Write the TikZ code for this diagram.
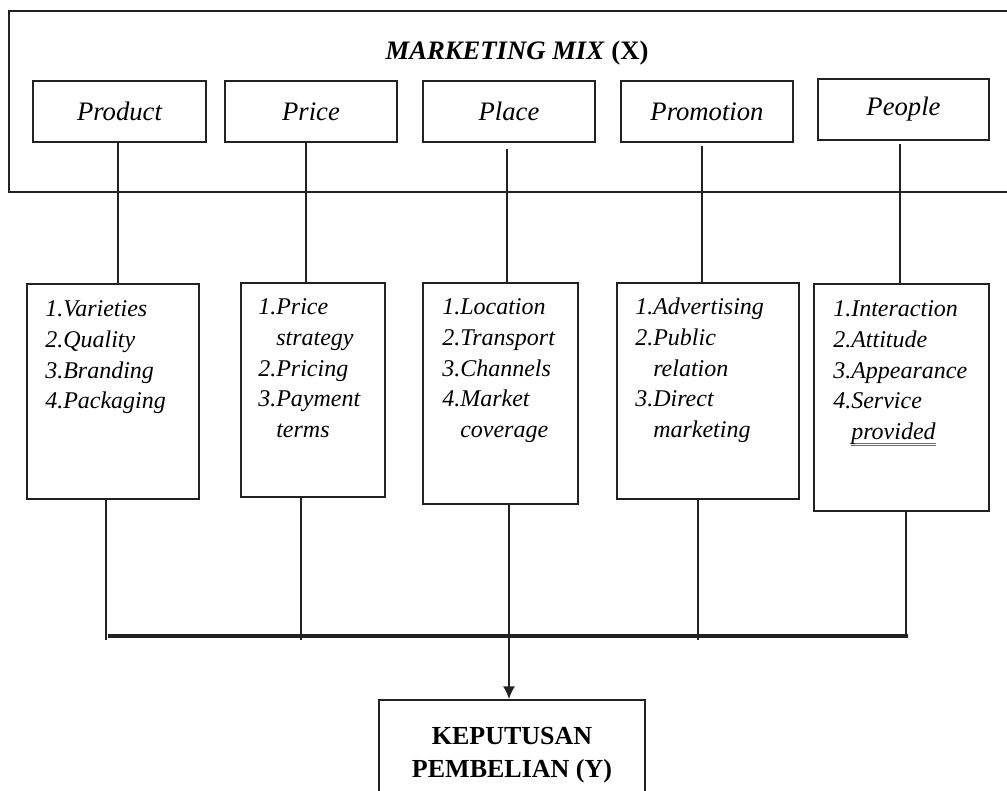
\documentclass[tikz,border=0pt]{standalone}
\usepackage{fontspec}
\setmainfont{Liberation Serif}
\usetikzlibrary{arrows.meta,calc}
\definecolor{ulblue}{HTML}{3B6FD8}
\definecolor{ink}{HTML}{222222}
\newcommand\dblul[1]{\setbox0\hbox{#1}\rlap{\color{ulblue}\rule[-3.2pt]{\wd0}{0.7pt}\hspace{-\wd0}\rule[-4.8pt]{\wd0}{0.7pt}}\box0}
\begin{document}
\begin{tikzpicture}[x=0.75pt,y=-0.75pt,
  box/.style={draw=ink,line width=1.3pt,inner sep=0pt},
  lbl/.style={box,font=\fontsize{20}{24}\selectfont\itshape},
  conn/.style={draw=ink,line width=1pt},
  bus/.style={draw=ink,line width=2.4pt},
  lst/.style={anchor=base west,inner sep=0pt,align=left,font=\fontsize{18}{23}\selectfont\itshape}]
\useasboundingbox (0,0) rectangle (1007,791);
\clip (0,0) rectangle (1007,791);
% outer frame
\node[box,anchor=north west,minimum width=753pt,minimum height=135.75pt] (frame) at (8,10) {};
\node[inner sep=0pt,font=\fontsize{20}{24}\selectfont\bfseries] (title) at (517,53) {\textit{MARKETING MIX} (X)};
% top label boxes
\node[lbl,minimum width=129.75pt,minimum height=45.75pt] (prod) at (119.5,111.5) {Product};
\node[lbl,minimum width=129pt,minimum height=45.75pt] (price) at (311,111.5) {Price};
\node[lbl,minimum width=129pt,minimum height=45.75pt] (place) at (509,111.5) {Place};
\node[lbl,minimum width=129pt,minimum height=45.75pt] (promo) at (707,111.5) {Promotion};
\node[lbl,minimum width=128.25pt,minimum height=45.75pt] (people) at (903.5,109.5) {People};
% list boxes
\node[box,minimum width=129pt,minimum height=161.25pt] (l1) at (113,391.5) {};
\node[box,minimum width=108pt,minimum height=160.5pt] (l2) at (313,390) {};
\node[box,minimum width=116.25pt,minimum height=165.75pt] (l3) at (500.5,393.5) {};
\node[box,minimum width=136.5pt,minimum height=162pt] (l4) at (708,391) {};
\node[box,minimum width=131.25pt,minimum height=170.25pt] (l5) at (901.5,397.5) {};
% list texts
\node[lst] (t1) at (45,317) {\begin{tabular}[t]{@{}l@{}l@{}}1.&Varieties\\2.&Quality\\3.&Branding\\4.&Packaging\end{tabular}};
\node[lst] (t2) at (258,315) {\begin{tabular}[t]{@{}l@{}l@{}}1.&Price\\&strategy\\2.&Pricing\\3.&Payment\\&terms\end{tabular}};
\node[lst] (t3) at (442,315) {\begin{tabular}[t]{@{}l@{}l@{}}1.&Location\\2.&Transport\\3.&Channels\\4.&Market\\&coverage\end{tabular}};
\node[lst] (t4) at (635,315) {\begin{tabular}[t]{@{}l@{}l@{}}1.&Advertising\\2.&Public\\&relation\\3.&Direct\\&marketing\end{tabular}};
\node[lst] (t5) at (833,317) {\begin{tabular}[t]{@{}l@{}l@{}}1.&Interaction\\2.&Attitude\\3.&Appearance\\4.&Service\\&\dblul{provided}\end{tabular}};
% bottom box
\node[box,anchor=north,minimum width=199.5pt,minimum height=83pt,align=center,font=\fontsize{19.5}{24.75}\selectfont\bfseries] (kp) at (512,699) {KEPUTUSAN\\PEMBELIAN (Y)};
% x positions of connectors
\coordinate (a1) at (118,0);
\coordinate (a2) at (306,0);
\coordinate (a3) at (507,0);
\coordinate (a4) at (702,0);
\coordinate (a5) at (900,0);
\coordinate (b1) at (106,640);
\coordinate (b2) at (301,640);
\coordinate (b3) at (509,636);
\coordinate (b4) at (698,640);
\coordinate (b5) at (906,636);
\coordinate (busL) at (108,636);
\coordinate (busR) at (908,636);
% upper connectors
\draw[conn] (prod.south -| a1) -- (l1.north -| a1);
\draw[conn] (price.south -| a2) -- (l2.north -| a2);
\draw[conn] ([yshift=-4.5pt]place.south -| a3) -- (l3.north -| a3);
\draw[conn] ([yshift=-2pt]promo.south -| a4) -- (l4.north -| a4);
\draw[conn] ([yshift=-2pt]people.south -| a5) -- (l5.north -| a5);
% lower connectors
\draw[conn] (l1.south -| b1) -- (b1);
\draw[conn] (l2.south -| b2) -- (b2);
\draw[conn] (l4.south -| b4) -- (b4);
\draw[conn] (l5.south -| b5) -- (b5);
\draw[bus] (busL) -- (busR);
\draw[conn,-{Latex[length=9.5pt,width=9pt]}] (l3.south -| b3) -- (kp.north -| b3);
\end{tikzpicture}
\end{document}
